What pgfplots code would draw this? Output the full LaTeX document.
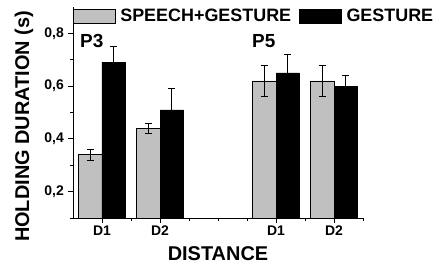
\documentclass[border=0pt]{standalone}
\usepackage{pgfplots}
\pgfplotsset{compat=1.18}
\usepackage{fontspec}
\setmainfont{Liberation Sans}
\definecolor{barGray}{RGB}{192,192,192}
\begin{document}
\begin{tikzpicture}
\begin{axis}[
  scale only axis,
  width=290bp, height=211bp,
  xmin=0, xmax=10, ymin=0.1, ymax=0.9,
  axis x line*=bottom, axis y line*=left,
  axis line style={line width=0.8pt},
  xtick={1,3,7,9},
  xticklabels={D1,D2,D1,D2},
  minor xtick={2,4,5,6,8,10},
  ytick={0.2,0.4,0.6,0.8},
  minor ytick={0.1,0.3,0.5,0.7},
  tick align=outside,
  major tick length=5bp, minor tick length=3bp,
  tick style={line width=0.8pt, black},
  /pgf/number format/assume math mode=true,
  /pgf/number format/use comma,
  /pgf/number format/fixed,
  /pgf/number format/precision=1,
  /pgf/number format/fixed zerofill,
  every tick label/.append style={font=\bfseries\fontsize{14}{16}\selectfont},
  yticklabel style={inner sep=4bp},
  xticklabel style={inner sep=3bp},
  ylabel={HOLDING DURATION (s)},
  xlabel={DISTANCE},
  label style={font=\bfseries\fontsize{20}{22}\selectfont},
  ylabel style={at={(axis description cs:-0.169,0.434)}, rotate=0, anchor=center},
  xlabel style={at={(axis description cs:0.5,-0.168)}, anchor=center},
  ybar,
  bar width=0.81,
  legend columns=2,
  legend style={at={(axis description cs:0,1)}, anchor=north west, yshift=-2bp,
    draw=none, fill=none, inner sep=0pt, outer sep=0pt,
    font=\bfseries\fontsize{18}{20}\selectfont,
    nodes={inner sep=0pt, anchor=west},
    /tikz/column 2/.style={column sep=8bp}},
  legend image code/.code={\draw[#1, line width=0.6pt] (0bp,-7bp) rectangle (42bp,7bp); \path[draw=none,fill=none] (0bp,0bp) -- (47bp,0bp);},
  error bars/error bar style={line width=0.6pt, black},
  error bars/error mark options={rotate=90, mark size=3.5bp, line width=0.6pt, black},
]
\addplot[fill=barGray, draw=black, line width=0.6pt, bar shift=-0.405,
  error bars/.cd, y dir=both, y explicit]
  coordinates {(1,0.34) +- (0,0.02) (3,0.44) +- (0,0.02) (7,0.62) +- (0,0.06) (9,0.62) +- (0,0.06)};
\addlegendentry{SPEECH+GESTURE}
\addplot[fill=black, draw=black, line width=0.6pt, bar shift=0.405,
  error bars/.cd, y dir=plus, y explicit]
  coordinates {(1,0.69) +- (0,0.06) (3,0.51) +- (0,0.08) (7,0.65) +- (0,0.07) (9,0.60) +- (0,0.04)};
\addlegendentry{GESTURE}
\node[anchor=south west, inner sep=0pt, font=\bfseries\fontsize{19}{21}\selectfont] at (axis cs:0.24,0.745) {P3};
\node[anchor=south west, inner sep=0pt, font=\bfseries\fontsize{19}{21}\selectfont] at (axis cs:6.17,0.745) {P5};
\end{axis}
\path[use as bounding box] (-73bp,-46bp) rectangle (362bp,218bp);
\end{tikzpicture}
\end{document}
